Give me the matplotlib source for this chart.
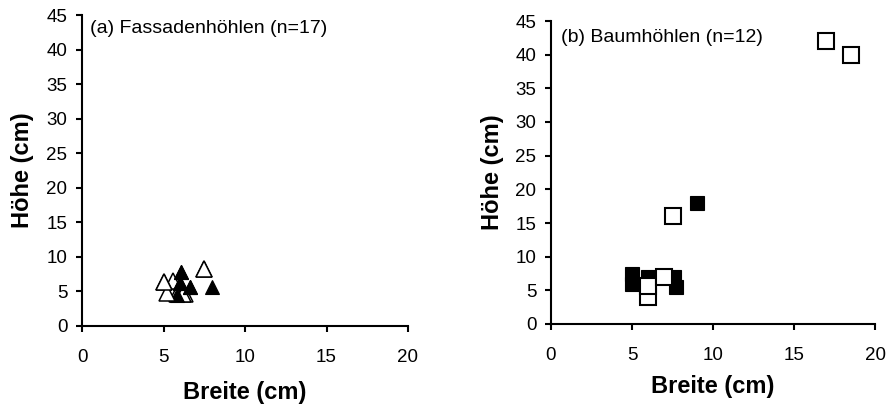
import matplotlib
matplotlib.use("Agg")
import matplotlib.pyplot as plt

plt.rcParams['font.family'] = ['Liberation Sans', 'DejaVu Sans']

# Panel (a): Fassadenhöhlen (n=17)
a_open_back_x = [6.3, 5.8, 5.6, 6.2, 5.0, 7.5]
a_open_back_y = [4.7, 4.7, 6.5, 4.6, 6.4, 8.3]
a_filled_x = [6.1, 6.6, 8.0, 6.0, 6.0, 5.8, 6.6, 6.1]
a_filled_y = [7.8, 5.6, 5.6, 6.2, 6.2, 4.5, 5.6, 7.8]
a_open_front_x = [5.2, 5.0, 7.5]
a_open_front_y = [4.8, 6.4, 8.3]

# Panel (b): Baumhöhlen (n=12)
b_filled_x = [9.0, 5.0, 5.0, 6.0, 7.7, 7.6]
b_filled_y = [18.0, 6.0, 7.5, 7.0, 5.5, 7.0]
b_open_x = [17.0, 18.5, 7.5, 6.0, 6.0, 7.0]
b_open_y = [42.0, 40.0, 16.0, 4.0, 5.6, 7.0]

x_ticks = [0, 5, 10, 15, 20]
y_ticks = [0, 5, 10, 15, 20, 25, 30, 35, 40, 45]
title_a = "(a) Fassadenhöhlen (n=17)"
title_b = "(b) Baumhöhlen (n=12)"
xlabel = "Breite (cm)"
ylabel = "Höhe (cm)"

W, H = 889, 409
fig = plt.figure(figsize=(W / 100, H / 100), dpi=100)

def rect(x0, x1, ytop, ybot):
    return [x0 / W, (H - ybot) / H, (x1 - x0) / W, (ybot - ytop) / H]

ax1 = fig.add_axes(rect(82, 408, 15, 326))
ax2 = fig.add_axes(rect(551, 875, 21, 324))

def style(ax, x0, x1, ytop, ybot, ylab_px, xlab_py):
    ax.set_xlim(0, 20)
    ax.set_ylim(0, 45)
    ax.set_xticks(x_ticks)
    ax.set_yticks(y_ticks)
    for s in ['top', 'right']:
        ax.spines[s].set_visible(False)
    for s in ['left', 'bottom']:
        ax.spines[s].set_linewidth(1.5)
        ax.spines[s].set_color('black')
        ax.spines[s].set_zorder(0)
    ax.tick_params(axis='both', direction='out', length=4.5, width=1.5,
                   labelsize=13.5, colors='black')
    ax.tick_params(axis='y', pad=6)
    ax.tick_params(axis='x', pad=12)
    ax.set_xlabel(xlabel, fontsize=17, fontweight='bold')
    ax.set_ylabel(ylabel, fontsize=17, fontweight='bold')
    ax.xaxis.label.set_va('center')
    ax.yaxis.label.set_va('center')
    ax.xaxis.set_label_coords(0.5, (ybot - xlab_py) / (ybot - ytop))
    ax.yaxis.set_label_coords((ylab_px - x0) / (x1 - x0), 0.5)

style(ax1, 82, 408, 15, 326, 22, 392)
style(ax2, 551, 875, 21, 324, 492, 387)

# panel a
ax1.plot(a_open_back_x, a_open_back_y, linestyle='none', marker='^', ms=11.5,
         mfc='white', mec='black', mew=1.1, clip_on=False, zorder=3)
ax1.plot(a_filled_x, a_filled_y, linestyle='none', marker='^', ms=9.5,
         mfc='black', mec='black', mew=0.8, clip_on=False, zorder=4)
ax1.plot(a_open_front_x, a_open_front_y, linestyle='none', marker='^', ms=11.5,
         mfc='white', mec='black', mew=1.1, clip_on=False, zorder=5)
ax1.text(0.025, 0.985, title_a, transform=ax1.transAxes, fontsize=14,
         ha='left', va='top')

# panel b
ax2.plot(b_filled_x, b_filled_y, linestyle='none', marker='s', ms=9.5,
         mfc='black', mec='black', mew=0.8, clip_on=False, zorder=3)
ax2.plot(b_open_x, b_open_y, linestyle='none', marker='s', ms=11,
         mfc='white', mec='black', mew=1.5, clip_on=False, zorder=4)
ax2.text(0.03, 0.975, title_b, transform=ax2.transAxes, fontsize=14,
         ha='left', va='top')

fig.savefig("out.png", dpi=100)
